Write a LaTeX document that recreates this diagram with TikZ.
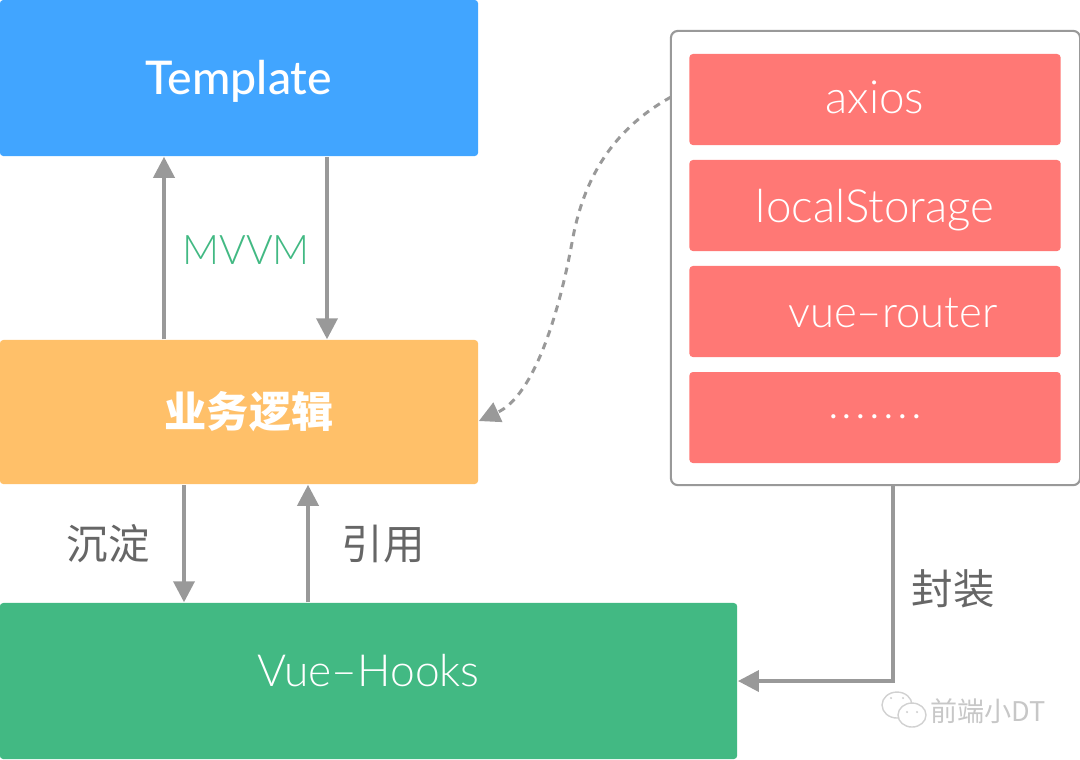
\documentclass[tikz,border=0pt]{standalone}
\usepackage{fontspec}
\setmainfont{Lato Light}[BoldFont=Lato Medium]
\newfontfamily\cjk{Noto Sans CJK SC}
\usetikzlibrary{arrows.meta}
\usetikzlibrary{shapes.geometric}
\definecolor{blueTpl}{HTML}{41A5FF}
\definecolor{orangeLogic}{HTML}{FFC069}
\definecolor{greenHooks}{HTML}{42B983}
\definecolor{redLib}{HTML}{FF7875}
\definecolor{lineGray}{HTML}{999999}
\definecolor{textGray}{HTML}{666666}
\tikzset{
  arrow/.style={-{Triangle[length=2.1mm,width=2.1mm]}, draw=lineGray, line width=1.05pt},
  card/.style={rectangle, rounded corners=1pt, text=white, inner sep=0pt},
  lib/.style={card, fill=redLib, minimum width=3.71cm, minimum height=0.91cm, text depth=0pt, font=\fontsize{13}{15}\selectfont},
  tag/.style={text=textGray, inner sep=0pt, font=\cjk\fontsize{11.8}{14}\selectfont},
}

\begin{document}
\begin{tikzpicture}[x=0.01cm,y=-0.01cm]
    \useasboundingbox (0,0) rectangle (1080,759);
    \node[card, fill=blueTpl, minimum width=4.78cm, minimum height=1.56cm, text height=0.32cm, text depth=0pt, font=\bfseries\fontsize{13.2}{15}\selectfont] (template) at (239,78) {Template};
    \node[card, fill=orangeLogic, minimum width=4.78cm, minimum height=1.44cm, font=\cjk\bfseries\fontsize{12}{14}\selectfont] (logic) at (239,412) {\hspace{0.2cm}业务逻辑};
    \node[card, fill=greenHooks, minimum width=7.37cm, minimum height=1.56cm, text height=0.1cm, text depth=0pt, font=\fontsize{12.6}{15}\selectfont] (hooks) at (368.5,681) {Vue–Hooks};
    \node[rectangle, rounded corners=2pt, draw=lineGray, line width=0.6pt, minimum width=4.09cm, minimum height=4.54cm] (panel) at (875.5,258) {};
    \node[lib, text height=0.27cm] (axios) at (875,99.5) {axios};
    \node[lib, text height=0.33cm] (storage) at (875,205.5) {localStorage};
    \node[lib, text height=0.32cm, font=\fontsize{12.4}{15}\selectfont] (router) at (875,311.5) {\hspace{0.36cm}vue–router};
    \node[lib, text height=0.02cm] (more) at (875,417.5) {\addfontfeatures{LetterSpace=7}.......};
    \node[tag, text=greenHooks, text height=0.34cm, text depth=0pt, font=\fontsize{11.6}{14}\selectfont] (mvvm) at (246,247) {MVVM};
    \node[tag] (settle) at (108,544) {沉淀};
    \node[tag] (ref) at (383,544) {引用};
    \node[tag] (wrap) at (953,589) {封装};
    \coordinate (up) at (164,0);
    \coordinate (down) at (327,0);
    \coordinate (settlex) at (184,0);
    \coordinate (refx) at (308,0);
    \coordinate (wrapx) at (893,0);
    \draw[arrow] (logic.north -| up) -- (template.south -| up);
    \draw[arrow] (template.south -| down) -- (logic.north -| down);
    \draw[arrow] (logic.south -| settlex) -- (hooks.north -| settlex);
    \draw[arrow] (hooks.north -| refx) -- (logic.south -| refx);
    \draw[arrow] (panel.south -| wrapx) |- (hooks.east);
    \coordinate (panelside) at (671,97);
    \draw[arrow, line width=0.85pt, dash pattern=on 2pt off 1.7pt] (panelside) .. controls (615,128) and (585,175) .. (573,237)
        .. controls (560,310) and (535,395) .. (logic.east |- 0,421);
    % watermark
    \node[text=lineGray!55, inner sep=0pt, font=\cjk\fontsize{7.7}{9}\selectfont] (mark) at (988,711) {前端小DT};
    \draw[lineGray!45, fill=white, line width=0.4pt] (897,705) ellipse (15 and 13);
    \draw[lineGray!45, fill=white, line width=0.4pt] (912,715) ellipse (14 and 12);
    \fill[lineGray!45] (891,698) circle (1.2) (903,698) circle (1.2) (907,712) circle (1.2) (917,712) circle (1.2);
\end{tikzpicture}
\end{document}
